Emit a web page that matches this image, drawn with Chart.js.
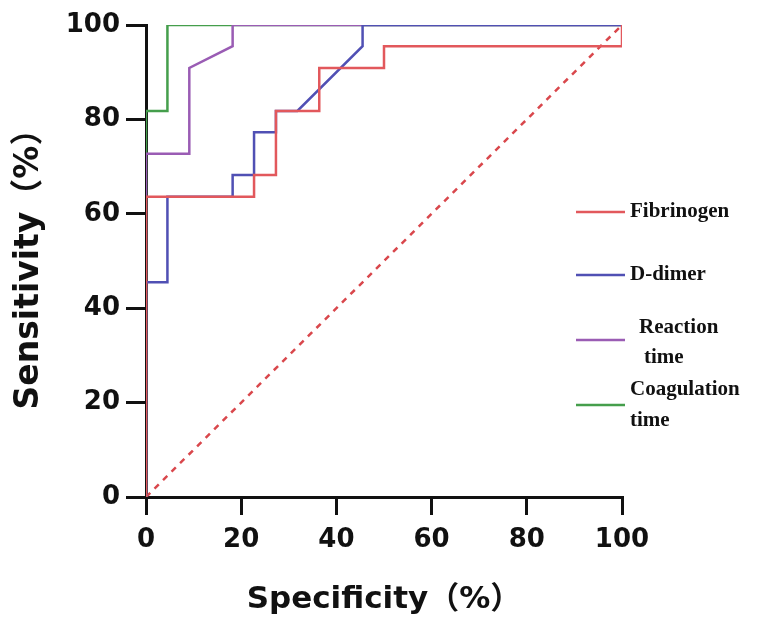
<!DOCTYPE html>
<html>
<head>
<meta charset="utf-8">
<script src="https://cdn.jsdelivr.net/npm/chart.js@4.4.1/dist/chart.umd.min.js"></script>
<style>
  html, body { margin:0; padding:0; background:#fff; }
  #wrap { width:774px; height:623px; }
</style>
</head>
<body>
<div id="wrap"><canvas id="roc" width="774" height="623"></canvas></div>
<script>
// ROC curve points (specificity axis %, sensitivity %)
const seriesNames = ['Fibrinogen', 'D-dimer', 'Reaction\ntime', 'Coagulation\ntime'];
const fibX = [0, 0, 22.7, 22.7, 27.3, 27.3, 36.4, 36.4, 50, 50, 100, 100];
const fibY = [0, 63.6, 63.6, 68.2, 68.2, 81.8, 81.8, 90.9, 90.9, 95.5, 95.5, 100];
const ddX = [0, 0, 4.5, 4.5, 18.2, 18.2, 22.7, 22.7, 27.3, 27.3, 31.8, 45.5, 45.5, 100];
const ddY = [0, 45.5, 45.5, 63.6, 63.6, 68.2, 68.2, 77.3, 77.3, 81.8, 81.8, 95.5, 100, 100];
const rtX = [0, 0, 9.1, 9.1, 18.2, 18.2, 100];
const rtY = [0, 72.7, 72.7, 90.9, 95.5, 100, 100];
const ctX = [0, 0, 4.5, 4.5, 100];
const ctY = [0, 81.8, 81.8, 100, 100];
const refX = [0, 100];
const refY = [0, 100];
const tickVals = [0, 20, 40, 60, 80, 100];

const colors = ['#e2585c', '#5050b4', '#9a5cb4', '#459e4c'];
const pts = (xs, ys) => xs.map((x, i) => ({ x: x, y: ys[i] }));

const FONT = '"DejaVu Sans", "Noto Sans CJK SC", sans-serif';

// hand-drawn legend on the right
const sideLegend = {
  id: 'sideLegend',
  afterDraw(chart) {
    const ctx = chart.ctx;
    const rows = [
      { ly: 212, ty: [212], tx: [630] },
      { ly: 275, ty: [275], tx: [630] },
      { ly: 340, ty: [328, 358], tx: [639, 644] },
      { ly: 405, ty: [390, 421], tx: [630, 630] }
    ];
    ctx.save();
    ctx.font = 'bold 21px "Liberation Serif", "Times New Roman", serif';
    ctx.textBaseline = 'middle';
    ctx.fillStyle = '#111';
    seriesNames.forEach((name, i) => {
      const r = rows[i];
      ctx.strokeStyle = colors[i];
      ctx.lineWidth = 2.5;
      ctx.beginPath();
      ctx.moveTo(576, r.ly);
      ctx.lineTo(625, r.ly);
      ctx.stroke();
      name.split('\n').forEach((t, j) => ctx.fillText(t, r.tx[j], r.ty[j]));
    });
    ctx.restore();
  }
};

const lineDs = (label, data, color) => ({
  label: label, data: data, borderColor: color, borderWidth: 2.5,
  pointRadius: 0, fill: false, tension: 0
});

// first dataset is drawn on top
new Chart(document.getElementById('roc'), {
  type: 'line',
  data: {
    datasets: [
      lineDs('Fibrinogen', pts(fibX, fibY), colors[0]),
      lineDs('D-dimer', pts(ddX, ddY), colors[1]),
      lineDs('Reaction time', pts(rtX, rtY), colors[2]),
      lineDs('Coagulation time', pts(ctX, ctY), colors[3]),
      { label: 'ref', data: pts(refX, refY), borderColor: '#d9474c', borderWidth: 2.5,
        borderDash: [6, 6], pointRadius: 0, fill: false }
    ]
  },
  options: {
    responsive: false,
    animation: false,
    layout: { padding: { left: 0, top: 25, right: 152, bottom: 0 } },
    plugins: { legend: { display: false }, tooltip: { enabled: false } },
    scales: {
      x: {
        type: 'linear', min: 0, max: 100,
        afterBuildTicks: s => { s.ticks = tickVals.map(v => ({ value: v })); },
        afterFit: s => { s.height = 126; },
        border: { display: true, color: '#111', width: 3 },
        grid: { display: true, drawOnChartArea: false, drawTicks: true, tickLength: 18, color: '#111', lineWidth: 3 },
        ticks: { color: '#111', padding: 10, font: { family: FONT, size: 26, weight: 'bold' } },
        title: { display: true, text: 'Specificity（%）', color: '#111',
          font: { family: FONT, size: 31, weight: 'bold' }, padding: { top: 0, bottom: 4 } }
      },
      y: {
        type: 'linear', min: 0, max: 100,
        afterBuildTicks: s => { s.ticks = tickVals.map(v => ({ value: v })); },
        afterFit: s => { s.width = 146; },
        border: { display: true, color: '#111', width: 3 },
        grid: { display: true, drawOnChartArea: false, drawTicks: true, tickLength: 20, color: '#111', lineWidth: 3 },
        ticks: { color: '#111', padding: 6, font: { family: FONT, size: 26, weight: 'bold' } },
        title: { display: true, text: 'Sensitivity（%）', color: '#111',
          font: { family: FONT, size: 33, weight: 'bold' }, padding: { top: 10, bottom: 6 } }
      }
    }
  },
  plugins: [sideLegend]
});
</script>
</body>
</html>
